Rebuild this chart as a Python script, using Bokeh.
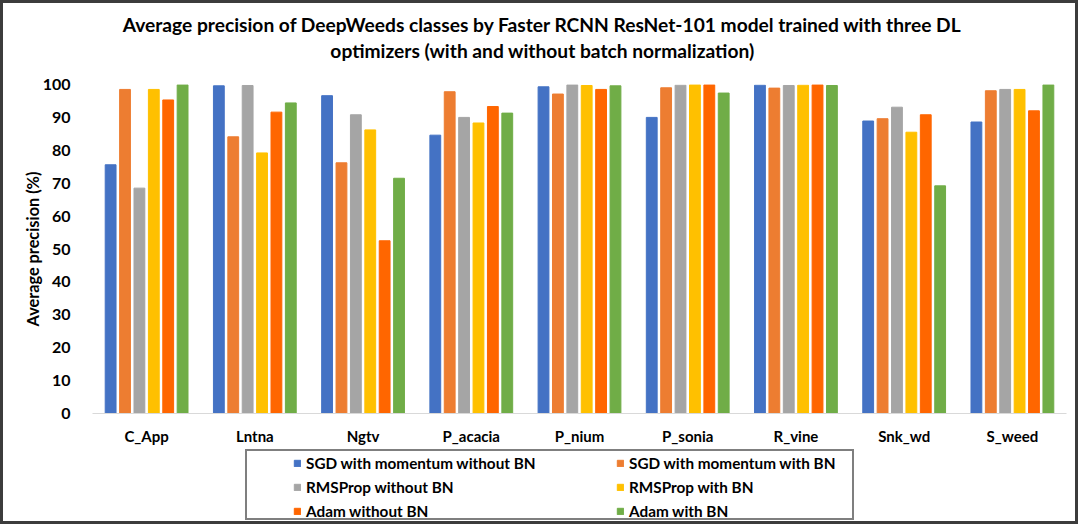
from bokeh.plotting import figure
from bokeh.layouts import column
from bokeh.models import (ColumnDataSource, FactorRange, Range1d, FixedTicker,
                          Legend, LegendItem, Label)
from bokeh.transform import dodge
from bokeh.embed import file_html
from bokeh.resources import INLINE

classes = ["C_App", "Lntna", "Ngtv", "P_acacia", "P_nium", "P_sonia", "R_vine", "Snk_wd", "S_weed"]
sgd_without_bn = [75.6, 99.6, 96.6, 84.6, 99.3, 90.0, 99.8, 88.9, 88.6]
sgd_with_bn = [98.5, 84.1, 76.2, 97.8, 97.1, 99.0, 98.9, 89.6, 98.1]
rms_without_bn = [68.5, 99.7, 90.8, 90.0, 99.9, 99.8, 99.7, 93.1, 98.5]
rms_with_bn = [98.5, 79.2, 86.2, 88.3, 99.7, 99.9, 99.8, 85.5, 98.5]
adam_without_bn = [95.3, 91.6, 52.5, 93.3, 98.5, 99.9, 99.9, 90.8, 92.0]
adam_with_bn = [99.9, 94.4, 71.5, 91.3, 99.6, 97.4, 99.7, 69.2, 99.9]
series_names = ["SGD with momentum without BN", "SGD with momentum with BN",
                "RMSProp without BN", "RMSProp with BN",
                "Adam without BN", "Adam with BN"]
y_ticks = [0, 10, 20, 30, 40, 50, 60, 70, 80, 90, 100]
title_lines = ["Average precision of DeepWeeds classes by Faster RCNN ResNet-101 model trained with three DL",
               "optimizers (with and without batch normalization)"]

colors = ["#4472C4", "#ED7D31", "#A5A5A5", "#FFC000", "#FF6600", "#70AD47"]
keys = ["s0", "s1", "s2", "s3", "s4", "s5"]
src = ColumnDataSource(dict(cls=classes, s0=sgd_without_bn, s1=sgd_with_bn,
                            s2=rms_without_bn, s3=rms_with_bn,
                            s4=adam_without_bn, s5=adam_with_bn))

FONT = "Lato"
W = 1072
FL, FR = 89, 1063          # frame left/right inside each strip
TH, PH, LH = 71, 374, 73   # heights: title strip, chart, legend strip


def strip(h):
    f = figure(width=W, height=h, x_range=Range1d(FL, FR), y_range=Range1d(0, h),
               output_backend="svg", toolbar_location=None, x_axis_type=None, y_axis_type=None,
               min_border_left=FL, min_border_right=W - FR, min_border_top=0, min_border_bottom=0)
    f.xgrid.visible = False
    f.ygrid.visible = False
    f.outline_line_color = None
    return f


# ---- title strip
t = strip(TH)
for txt, yy in zip(title_lines, [50, 24]):
    t.add_layout(Label(x=539, y=yy, text=txt, text_align="center", text_baseline="middle",
                       text_font=FONT, text_font_size="19.2px", text_font_style="bold",
                       text_color="black"))

# ---- chart
p = figure(width=W, height=PH, x_range=FactorRange(*classes, range_padding=0),
           y_range=Range1d(0, 100), output_backend="svg", toolbar_location=None,
           min_border_left=FL, min_border_right=W - FR, min_border_top=10, min_border_bottom=35)
p.xgrid.visible = False
p.ygrid.visible = False
p.outline_line_color = None

step = 0.133
for i, (k, c) in enumerate(zip(keys, colors)):
    p.vbar(x=dodge("cls", (i - 2.5) * step, range=p.x_range), top=k, width=0.1,
           source=src, fill_color=c, line_color=c, line_width=1)

p.yaxis.ticker = FixedTicker(ticks=y_ticks)
p.yaxis.axis_line_color = None
p.yaxis.major_tick_line_color = None
p.yaxis.minor_tick_line_color = None
p.yaxis.major_label_standoff = 16
p.yaxis.major_label_text_font = FONT
p.yaxis.major_label_text_font_size = "16px"
p.yaxis.major_label_text_font_style = "bold"
p.yaxis.major_label_text_color = "black"
p.yaxis.axis_label = "Average precision (%)"
p.yaxis.axis_label_text_font = FONT
p.yaxis.axis_label_text_font_size = "16.3px"
p.yaxis.axis_label_text_font_style = "bold"
p.yaxis.axis_label_text_color = "black"
p.yaxis.axis_label_standoff = -2

p.xaxis.axis_line_color = "#D9D9D9"
p.xaxis.axis_line_width = 1
p.xaxis.major_tick_line_color = None
p.xaxis.minor_tick_line_color = None
p.xaxis.major_tick_out = 0
p.xaxis.major_tick_in = 0
p.xaxis.major_label_standoff = 13
p.xaxis.major_label_text_font = FONT
p.xaxis.major_label_text_font_size = "15px"
p.xaxis.major_label_text_font_style = "bold"
p.xaxis.major_label_text_color = "black"

# ---- legend strip
q = strip(LH)
swatches = [q.vbar(x=[0], top=[0], width=1, fill_color=c, line_color=c) for c in colors]
dummy = q.vbar(x=[0], top=[0], width=1, fill_alpha=0, line_alpha=0)

box = Legend(items=[LegendItem(label=" ", renderers=[dummy])], location=(242 - FL, 1),
             glyph_width=1, glyph_height=1, label_standoff=0, label_width=604, label_height=67,
             padding=0, margin=0, border_line_color="black", border_line_width=2.5,
             background_fill_color="white", background_fill_alpha=1.0)
q.add_layout(box, "center")


def make_leg(idx, loc):
    return Legend(items=[LegendItem(label=series_names[j], renderers=[swatches[j]]) for j in idx],
                  location=loc, glyph_width=8, glyph_height=8, label_standoff=5,
                  padding=0, spacing=3, label_height=21, margin=0,
                  border_line_color=None, background_fill_alpha=0,
                  label_text_font=FONT, label_text_font_style="bold",
                  label_text_font_size="15.3px", label_text_color="black")


q.add_layout(make_leg([0, 2, 4], (290 - FL, 0)), "center")
q.add_layout(make_leg([1, 3, 5], (613 - FL, 0)), "center")

layout = column(t, p, q, spacing=0)
layout.styles = {"border": "3px solid #3c3c3c"}

open("out.html", "w").write(file_html(layout, INLINE))
